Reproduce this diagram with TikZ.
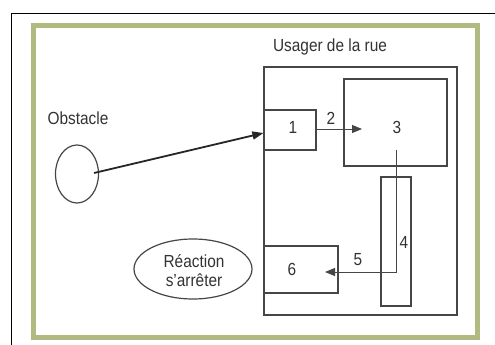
\documentclass[tikz,border=0pt]{standalone}
\usepackage{fontspec}
\setmainfont{Liberation Sans}[FakeStretch=0.88]
\usetikzlibrary{arrows.meta,shapes.geometric}
\definecolor{framegreen}{RGB}{178,186,130}
\definecolor{linegray}{RGB}{70,70,70}
\tikzset{
  box/.style={draw=linegray, line width=1.2pt, rectangle, inner sep=0pt},
  lab/.style={font=\fontsize{17.5}{19}\selectfont, text=black!80, inner sep=0pt},
  conn/.style={draw=linegray, line width=1pt, -{Triangle[length=10pt,width=8pt]}},
}
\begin{document}
\begin{tikzpicture}[x=1pt,y=-1pt]
\useasboundingbox (0,0) rectangle (495,345);
\fill[white] (0,0) rectangle (495,345);
% outer black frame (cut off at right and bottom)
\draw[black, line width=1.5pt] (11.5,345) -- (11.5,13.5) -- (495,13.5);
% green frame
\draw[framegreen, line width=5pt] (33.5,25.5) rectangle (477.5,337.5);

% titles
\node[lab] (tobst) at (78,118) {Obstacle};
\node[lab] (tusager) at (330,47) {Usager de la rue};

% obstacle ellipse
\node[ellipse, draw=linegray, line width=1.2pt, minimum width=43pt, minimum height=58pt, inner sep=0pt] (obst) at (77,174) {};

% big box
\node[box, minimum width=193pt, minimum height=248pt] (big) at (360.5,191) {};
% box 1
\node[box, minimum width=52pt, minimum height=40pt, fill=white] (b1) at (290,130) {};
\node[lab] (t1) at (293,127) {1};
% box 3
\node[box, minimum width=103pt, minimum height=87pt] (b3) at (395.5,122.5) {};
\node[lab] (t3) at (397,127) {3};
% box 4
\node[box, minimum width=30pt, minimum height=129pt] (b4) at (396,241.5) {};
\node[lab] (t4) at (404,242) {4};
% box 6
\node[box, minimum width=74pt, minimum height=47pt, fill=white] (b6) at (301,269.5) {};
\node[lab] (t6) at (292,269) {6};

% reaction ellipse
\node[ellipse, draw=linegray, line width=1.2pt, minimum width=118pt, minimum height=60pt, inner sep=0pt] (react) at (193,269) {};
\node[lab, align=center] (treact) at (194,271) {R\'eaction\\[0pt]s’arr\^eter};

% connectors
\draw[black!85, line width=1.8pt, -{Triangle[length=11pt,width=8pt]}] (94,173) -- (b1.west |- 0,133);
\coordinate (e2) at (362,129);
\draw[conn] (b1.east |- 0,129) -- (e2);
\node[lab] (t2) at (331,118) {2};
\coordinate (s3) at (396,150);
\coordinate (c45) at (396,272);
\coordinate (e5) at (325,272);
\draw[conn] (s3) -- (c45) -- (e5);
\node[lab] (t5) at (358,260) {5};
\end{tikzpicture}
\end{document}
